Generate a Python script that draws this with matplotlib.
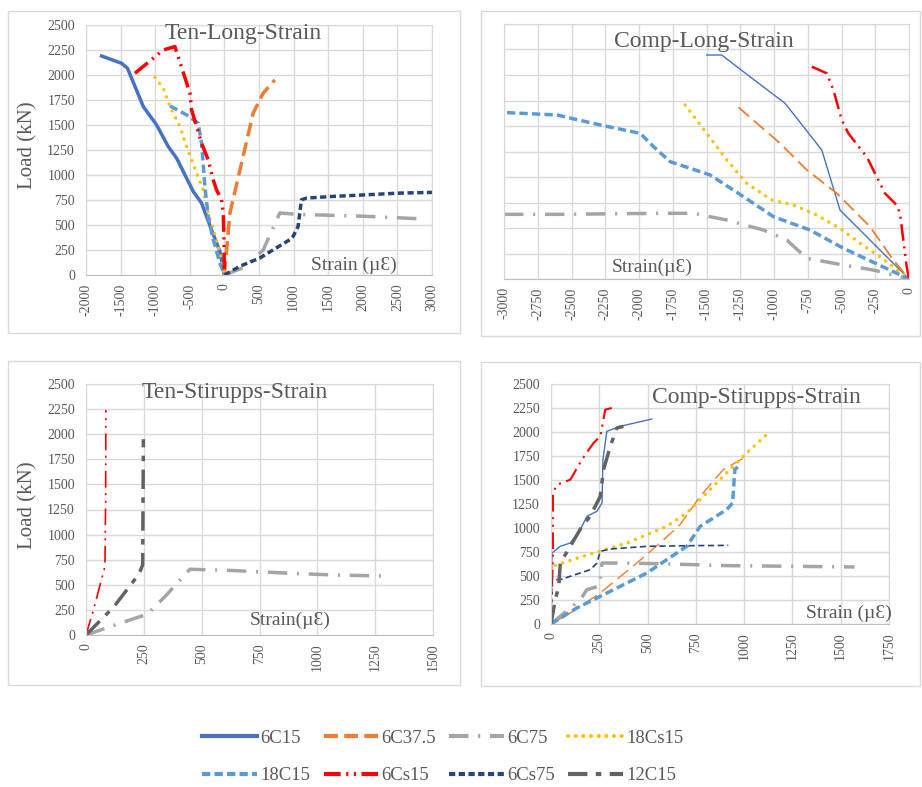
import matplotlib
matplotlib.use("Agg")
import matplotlib.pyplot as plt
from matplotlib.lines import Line2D
from matplotlib.patches import Rectangle

# ---- data (strain, load) ----
# Ten-Long-Strain
tl_6C15 = [(-1775, 2190), (-1485, 2117), (-1400, 2067), (-1172, 1684), (-980, 1501),
           (-812, 1285), (-690, 1168), (-450, 835), (-330, 719), (-186, 453), (-66, 236), (0, 0)]
tl_6C375 = [(0, 0), (80, 620), (270, 1185), (415, 1618), (560, 1818), (728, 1951)]
tl_6C75 = [(0, 0), (300, 80), (560, 250), (800, 620), (1090, 605), (1500, 598),
           (2000, 588), (2900, 560)]
tl_18Cs15 = [(-1004, 1977), (-884, 1868), (-787, 1684), (-643, 1485), (-547, 1285),
             (-402, 1019), (-306, 852), (-234, 619), (-138, 403), (-66, 220), (0, 0)]
tl_18C15 = [(-787, 1691), (-547, 1601), (-378, 1518), (-330, 1318), (-282, 885),
            (-234, 586), (-162, 353), (-66, 120), (0, 0)]
tl_6Cs15 = [(-1293, 2017), (-884, 2250), (-715, 2284), (-498, 1818), (-474, 1651),
            (-330, 1318), (-234, 1152), (-162, 952), (-114, 852), (-42, 752), (-17, 620),
            (-8, 420), (0, 0)]
tl_6Cs75 = [(0, 0), (223, 87), (512, 170), (945, 353), (993, 386), (1065, 486),
            (1113, 752), (1186, 769), (1571, 786), (2052, 802), (2533, 819), (3000, 826)]

# Comp-Long-Strain
cl_6C15 = [(-1498, 2196), (-1387, 2196), (-1276, 2082), (-918, 1722), (-646, 1265),
           (-511, 676), (0, 0)]
cl_6C375 = [(-1263, 1683), (-955, 1330), (-757, 1069), (-535, 840), (-289, 513),
            (-116, 186), (0, 0)]
cl_6C75 = [(-3000, 634), (-2583, 634), (-1843, 644), (-1596, 644), (-1350, 578),
           (-1078, 480), (-905, 382), (-757, 203), (-486, 137), (-264, 88), (0, 0)]
cl_18Cs15 = [(-1658, 1706), (-1498, 1428), (-1350, 1167), (-1202, 938), (-1017, 775),
             (-856, 725), (-708, 644), (-511, 497), (-363, 350), (-215, 219), (0, 0)]
cl_18C15 = [(-2978, 1631), (-2608, 1608), (-2287, 1510), (-1991, 1428), (-1892, 1297),
            (-1769, 1150), (-1473, 1020), (-1226, 807), (-1004, 611), (-733, 480),
            (-486, 301), (0, 0)]
cl_6Cs15 = [(-720, 2082), (-609, 2016), (-560, 1853), (-498, 1559), (-449, 1428),
            (-363, 1281), (-313, 1199), (-252, 1036), (-178, 840), (-91, 725),
            (-67, 644), (-42, 382), (-17, 121), (0, 0)]

# Ten-Stirupps-Strain
ts_6C75 = [(0, 0), (104, 83), (233, 183), (262, 199), (348, 399), (449, 655),
           (636, 642), (881, 615), (1068, 598), (1284, 588)]
ts_6Cs15 = [(0, 0), (32, 249), (82, 682), (85, 1400), (86, 2240)]
ts_12C15 = [(0, 0), (120, 280), (230, 610), (245, 700), (248, 1950)]

# Comp-Stirupps-Strain
cs_6C15 = [(0, 0), (5, 740), (48, 809), (100, 844), (152, 983), (186, 1122), (238, 1174),
           (264, 1260), (269, 1712), (289, 2007), (358, 2059), (522, 2135)]
cs_6C375 = [(0, 0), (100, 115), (255, 323), (444, 635), (565, 844), (668, 1035),
            (772, 1330), (892, 1608), (1013, 1747)]
cs_6C75 = [(0, 0), (48, 80), (152, 253), (186, 358), (246, 392), (255, 462), (264, 635),
           (358, 635), (565, 628), (909, 608), (1254, 601), (1572, 594)]
cs_18Cs15 = [(0, 0), (5, 601), (220, 740), (393, 844), (599, 1017), (703, 1156),
             (840, 1434), (1013, 1781), (1116, 1972)]
cs_18C15 = [(0, 0), (134, 167), (220, 253), (496, 531), (703, 809), (772, 1017),
            (909, 1191), (940, 1260), (952, 1608), (969, 1642)]
cs_6Cs15 = [(0, 0), (10, 740), (10, 1365), (31, 1451), (100, 1503), (160, 1712),
            (220, 1885), (255, 1955), (281, 2233), (315, 2250)]
cs_6Cs75 = [(0, 0), (5, 462), (48, 462), (203, 566), (238, 635), (255, 757), (307, 781),
            (496, 809), (737, 816), (918, 819)]
cs_12C15 = [(0, 0), (22, 253), (40, 392), (48, 635), (100, 809), (160, 1017), (203, 1122),
            (255, 1330), (272, 1608), (307, 1851), (341, 2042), (375, 2059)]

series_names = ["6C15", "6C37.5", "6C75", "18Cs15", "18C15", "6Cs15", "6Cs75", "12C15"]

# ---- styles ----
plt.rcParams["font.family"] = ["Liberation Serif", "DejaVu Serif"]
plt.rcParams["axes.unicode_minus"] = False
plt.rcParams["lines.scale_dashes"] = False
TXT = "#595959"
GRID = "#D9D9D9"

style = {
    "6C15": dict(color="#4472C4", ls="-"),
    "6C37.5": dict(color="#ED7D31", dashes=(10, 4.5)),
    "6C75": dict(color="#A5A5A5", dashes=(14, 7, 1.5, 7)),
    "18Cs15": dict(color="#FFC000", dashes=(0.01, 5.5), dash_capstyle="round"),
    "18C15": dict(color="#5B9BD5", dashes=(6, 3)),
    "6Cs15": dict(color="#FF0000", dashes=(12, 4, 1.5, 4, 1.5, 4)),
    "6Cs75": dict(color="#264478", dashes=(4.5, 2.5)),
    "12C15": dict(color="#636363", dashes=(14, 6, 4, 6)),
}

panels = [
    dict(title="Ten-Long-Strain", xlab="Strain (µƐ)",
         data={"6C15": tl_6C15, "6C37.5": tl_6C375, "6C75": tl_6C75, "18Cs15": tl_18Cs15,
               "18C15": tl_18C15, "6Cs15": tl_6Cs15, "6Cs75": tl_6Cs75},
         lw={}, xlim=(-2000, 3000), xstep=500, px=(86, 25, 432, 275), box=(8, 11, 460, 333),
         tpos=(0.454, 0.968), lpos=(0.775, 0.04), yticks=True),
    dict(title="Comp-Long-Strain", xlab="Strain(µƐ)",
         data={"6C15": cl_6C15, "6C37.5": cl_6C375, "6C75": cl_6C75, "18Cs15": cl_18Cs15,
               "18C15": cl_18C15, "6Cs15": cl_6Cs15},
         lw={"6C15": 1.0, "6C37.5": 1.3, "6Cs15": 1.8}, xlim=(-3000, 0), xstep=250,
         px=(504, 24, 909, 279), box=(481, 11, 920, 336),
         tpos=(0.494, 0.93), lpos=(0.366, 0.047), yticks=False),
    dict(title="Ten-Stirupps-Strain", xlab="Strain(µƐ)",
         data={"6C75": ts_6C75, "6Cs15": ts_6Cs15, "12C15": ts_12C15},
         lw={"6Cs15": 1.2}, xlim=(0, 1500), xstep=250, px=(86, 384, 433, 635),
         box=(8, 361, 460, 685), tpos=(0.429, 0.968), lpos=(0.588, 0.06), yticks=True),
    dict(title="Comp-Stirupps-Strain", xlab="Strain (µƐ)",
         data={"6C15": cs_6C15, "6C37.5": cs_6C375, "6C75": cs_6C75, "18Cs15": cs_18Cs15,
               "18C15": cs_18C15, "6Cs15": cs_6Cs15, "6Cs75": cs_6Cs75, "12C15": cs_12C15},
         lw={"6C15": 1.0, "6C37.5": 1.0, "6Cs15": 1.5, "6Cs75": 1.2}, xlim=(0, 1750),
         xstep=250, px=(551, 384, 889, 624), box=(481, 362, 920, 686),
         tpos=(0.607, 0.942), lpos=(0.882, 0.046), yticks=True),
]

W, H = 922, 787
fig = plt.figure(figsize=(W / 100, H / 100), dpi=100)


def fx(x):
    return x / W


def fy(y):
    return 1 - y / H


for p in panels:
    x0, y0, x1, y1 = p["box"]
    fig.patches.append(Rectangle((fx(x0), fy(y1)), fx(x1 - x0), (y1 - y0) / H,
                                 transform=fig.transFigure, fill=False,
                                 edgecolor="#D9D9D9", lw=1.0))
    l, t, r, b = p["px"]
    ax = fig.add_axes([fx(l), fy(b), fx(r - l), (b - t) / H])
    for name, pts in p["data"].items():
        xs = [q[0] for q in pts]
        ys = [q[1] for q in pts]
        ax.plot(xs, ys, lw=p["lw"].get(name, 2.5), **style[name])
    ax.set_xlim(*p["xlim"])
    ax.set_ylim(0, 2500)
    ax.set_xticks(range(p["xlim"][0], p["xlim"][1] + 1, p["xstep"]))
    ax.set_yticks(range(0, 2501, 250))
    ax.grid(True, color=GRID, lw=1.0)
    ax.set_axisbelow(True)
    for s in ax.spines.values():
        s.set_color(GRID)
    ax.spines["bottom"].set_color("#BFBFBF")
    ax.tick_params(length=0, colors=TXT, labelsize=10)
    ax.tick_params(axis="x", labelrotation=90, pad=6)
    ax.tick_params(axis="y", pad=8)
    if not p["yticks"]:
        ax.set_yticklabels([])
    ax.text(p["tpos"][0], p["tpos"][1], p["title"], transform=ax.transAxes,
            ha="center", va="center", fontsize=17, color=TXT)
    ax.text(p["lpos"][0], p["lpos"][1], p["xlab"], transform=ax.transAxes,
            ha="center", va="center", fontsize=14, color=TXT)

fig.text(fx(28), fy(145), "Load (kN)", rotation=90, ha="center", va="center",
         fontsize=15, color=TXT)
fig.text(fx(28), fy(505), "Load (kN)", rotation=90, ha="center", va="center",
         fontsize=15, color=TXT)

# legend fills column by column, so reorder to read row by row
order = [0, 4, 1, 5, 2, 6, 3, 7]
handles = [Line2D([], [], lw=3, **style[series_names[i]]) for i in order]
labels = [series_names[i] for i in order]
fig.legend(handles, labels, ncol=4, loc="center", bbox_to_anchor=(fx(443), fy(757)),
           frameon=False, fontsize=13.5, labelcolor=TXT, handlelength=2.9,
           handletextpad=0.2, columnspacing=0.7, labelspacing=1.1)

fig.savefig("out.png", dpi=100)
